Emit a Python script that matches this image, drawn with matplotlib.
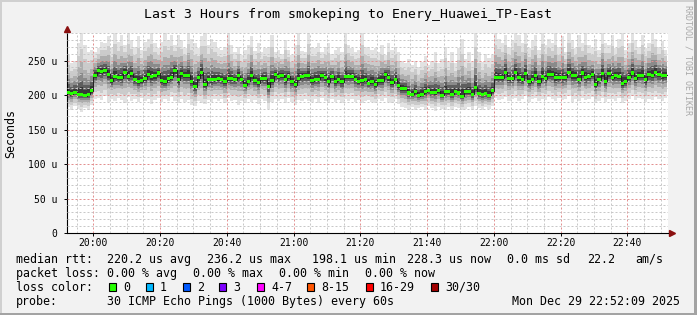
import numpy as np
import matplotlib
matplotlib.use("Agg")
import matplotlib.pyplot as plt
import matplotlib.dates as mdates
from matplotlib.patches import Rectangle
from matplotlib.ticker import MultipleLocator, FuncFormatter

plt.rcParams["font.family"] = ["DejaVu Sans Mono", "DejaVu Sans"]

# one sample per minute (30 pings each), values in microseconds
median_us = [
    204, 202, 204, 201, 201, 199, 201, 206, 229, 235,
    234, 236, 230, 221, 227, 225, 225, 233, 227, 231,
    222, 220, 221, 224, 230, 227, 228, 232, 221, 219,
    224, 226, 236, 222, 231, 229, 229, 220, 212, 225,
    233, 215, 222, 222, 222,
    224, 222, 220, 224, 224, 222, 228, 222, 214, 220,
    228, 221, 218, 224, 224, 212, 221, 230, 227, 229,
    222, 227, 220, 215, 224, 227, 228, 228, 221, 223,
    223, 228, 225, 219, 227, 219, 223, 219, 227, 227,
    227, 223, 220, 221, 222,
    217, 220, 215, 221, 221, 230, 225, 218, 223, 214,
    209, 209, 203, 201, 205, 199, 201, 205, 207, 204,
    204, 206, 200, 205, 205, 201, 205, 203, 198, 205,
    205, 201, 211, 202, 201, 202, 200, 206, 225, 226,
    225, 233, 224, 224, 233,
    225, 222, 231, 219, 223, 228, 219, 227, 224, 230,
    230, 225, 226, 225, 226, 233, 228, 228, 222, 232,
    225, 227, 230, 215, 222, 231, 220, 231, 225, 229,
    227, 217, 220, 226, 232, 224, 229, 229, 222, 230,
    229, 233, 230, 228, 229,
]

# slowest ping of each sample (top of the smoke)
smoke_hi_us = [
    258, 246, 250, 276, 290, 272, 262, 266,
    263, 268, 277, 275, 285, 268, 290, 277, 287, 273,
    290, 280, 270, 285, 266, 277, 282, 290, 275, 268,
    277, 290, 280, 287, 273, 287, 280, 268, 290, 282,
    275, 268, 285, 290, 273, 282, 277,
    268, 266, 270, 290, 272, 262, 270, 258, 266, 272,
    285, 264, 276, 262, 268, 270, 287, 262, 266, 260,
    280, 266, 258, 272, 290, 264, 262, 290, 270, 268,
    276, 262, 270, 275, 260, 266, 270, 262, 290, 272,
    268, 262, 266, 290, 270,
    270, 266, 268, 262, 272, 258, 276, 266, 270, 262,
    250, 246, 252, 244, 250, 240, 248, 256, 244, 250,
    262, 246, 252, 270, 248, 262, 246, 268, 282, 252,
    262, 248, 290, 262, 248, 260, 254, 258, 290, 282,
    276, 287, 270, 280, 290,
    287, 276, 290, 268, 280, 287, 266, 290, 272, 282,
    276, 290, 270, 285, 262, 290, 280, 268, 287, 276,
    290, 272, 268, 282, 266, 290, 276, 272, 287, 268,
    282, 290, 266, 276, 290, 280, 270, 287, 268, 276,
    290, 282, 270, 278, 266,
]

# fastest ping of each sample (bottom of the smoke)
smoke_lo_us = [
    182, 179, 184, 180, 176, 181, 178, 186, 195, 196,
    193, 198, 190, 194, 191, 196, 193, 189, 197, 192,
    195, 190, 196, 192, 194, 187, 193, 196, 190, 194,
    192, 197, 191, 188, 195, 190, 193, 186, 184, 192,
    189, 187, 193, 190, 195,
    192, 194, 188, 196, 191, 193, 186, 192, 189, 195,
    190, 193, 187, 194, 191, 180, 190, 195, 192, 194,
    189, 196, 190, 186, 193, 192, 195, 191, 190, 194,
    189, 196, 192, 188, 195, 190, 193, 189, 194, 192,
    195, 190, 193, 188, 192,
    193, 190, 188, 194, 192, 196, 190, 189, 194, 187,
    183, 181, 179, 182, 178, 181, 183, 179, 184, 181,
    177, 183, 180, 178, 182, 179, 183, 181, 178, 180,
    182, 179, 184, 181, 178, 182, 180, 184, 196, 193,
    195, 197, 192, 194, 196,
    192, 195, 198, 190, 194, 196, 191, 195, 193, 197,
    194, 192, 196, 193, 195, 198, 190, 194, 192, 196,
    193, 195, 197, 188, 192, 196, 190, 194, 195, 192,
    196, 189, 192, 195, 198, 193, 196, 194, 190, 195,
    193, 197, 194, 192, 196,
]

first_sample = np.datetime64("2025-12-29T19:52:00")
view_start = np.datetime64("2025-12-29T19:52:09")
view_end = np.datetime64("2025-12-29T22:52:09")

title = "Last 3 Hours from smokeping to Enery_Huawei_TP-East"
rtt_items = ["median rtt:", "220.2 us avg", "236.2 us max", "198.1 us min",
             "228.3 us now", "0.0 ms sd", "22.2", "am/s"]
loss_items = ["packet loss:", "0.00 % avg", "0.00 % max", "0.00 % min", "0.00 % now"]
loss_labels = ["0", "1", "2", "3", "4-7", "8-15", "16-29", "30/30"]
loss_colors = ["#26ff00", "#00b8ff", "#0059ff", "#7e00ff",
               "#ff00ff", "#ff5500", "#ff0000", "#a10000"]
probe_text = "30 ICMP Echo Pings (1000 Bytes) every 60s"
stamp = "Mon Dec 29 22:52:09 2025"

W, H = 697, 315


def fx(x):
    return x / W


def fy(y):
    return 1 - y / H


fig = plt.figure(figsize=(W / 100, H / 100), dpi=100, facecolor="#f2f2f2")

# 3d-ish frame of the rrdtool canvas
fig.add_artist(Rectangle((0, 0), 1, 2 / H, transform=fig.transFigure, color="#a3a3a3", lw=0))
fig.add_artist(Rectangle((1 - 3 / W, 0), 3 / W, 1, transform=fig.transFigure, color="#a3a3a3", lw=0))
fig.add_artist(Rectangle((0, 1 - 2 / H), 1 - 3 / W, 2 / H, transform=fig.transFigure, color="#d0d0d0", lw=0))
fig.add_artist(Rectangle((0, 2 / H), 2 / W, 1 - 4 / H, transform=fig.transFigure, color="#d0d0d0", lw=0))

ax = fig.add_axes([fx(67), fy(233), 601 / W, 200 / H])
ax.set_facecolor("white")

n = len(median_us)
edges = first_sample + np.arange(n + 1) * np.timedelta64(1, "m")
med = np.append(median_us, median_us[-1]).astype(float)
hi = np.append(smoke_hi_us, smoke_hi_us[-1]).astype(float)
lo = np.append(smoke_lo_us, smoke_lo_us[-1]).astype(float)

# smoke: lighter shades further from the median
fracs = [1.0, 0.74, 0.52, 0.35, 0.22, 0.12]
grays = ["#e2e2e2", "#cbcbcb", "#adadad", "#8a8a8a", "#5e5e5e", "#383838"]
for f, g in zip(fracs, grays):
    ax.fill_between(edges, med - f * (med - lo), med + f * (hi - med),
                    step="post", color=g, lw=0, zorder=1)

ax.step(edges, med, where="post", color="#202020", lw=0.7, zorder=3)
ax.fill_between(edges, med - 2.2, med + 2.2, step="post",
                color=loss_colors[0], lw=0, zorder=4)

ax.set_xlim(view_start, view_end)
ax.set_ylim(0, 290)

ax.xaxis.set_major_locator(mdates.MinuteLocator(byminute=[0, 20, 40]))
ax.xaxis.set_minor_locator(mdates.MinuteLocator(byminute=range(0, 60, 5)))
ax.xaxis.set_major_formatter(mdates.DateFormatter("%H:%M"))
ax.yaxis.set_major_locator(MultipleLocator(50))
ax.yaxis.set_minor_locator(MultipleLocator(10))
ax.yaxis.set_major_formatter(FuncFormatter(lambda v, p: "0" if v == 0 else "%d u" % v))

ax.set_axisbelow(False)
ax.grid(which="minor", color="#c8c8c8", lw=0.72, ls=(0, (2, 2)))
ax.grid(which="major", color="#e39090", lw=0.72, ls=(0, (2, 2)))

ax.tick_params(which="major", length=2, width=0.7, color="black", labelsize=7)
ax.tick_params(axis="y", pad=5)
ax.tick_params(axis="x", pad=1.5)
ax.tick_params(which="minor", length=0)

for s in ["top", "right"]:
    ax.spines[s].set_visible(False)
for s in ["left", "bottom"]:
    ax.spines[s].set_color("black")
    ax.spines[s].set_linewidth(0.8)

# axis arrows
ax.plot([0, 0], [1, 1.02], color="black", lw=0.8, transform=ax.transAxes, clip_on=False)
ax.plot(0, 1.02, marker="^", ms=4, color="#8b1010", transform=ax.transAxes, clip_on=False)
ax.plot(1.006, 0, marker=">", ms=4, color="#8b1010", transform=ax.transAxes, clip_on=False)

fig.text(fx(348.5), fy(18), title, ha="center", va="baseline", fontsize=9.5)
fig.text(fx(11), fy(133), "Seconds", rotation=90, ha="center", va="center", fontsize=8.4)
fig.text(fx(688), fy(5), "RRDTOOL / TOBI OETIKER", rotation=270, ha="center", va="top",
         fontsize=6, color="#a8a8a8")

# legend block
rtt_x = [16, 107, 207, 312, 407, 507, 587, 635]
for s, x in zip(rtt_items, rtt_x):
    fig.text(fx(x), fy(263), s, va="baseline", fontsize=8.4)

loss_x = [16, 107, 193, 279, 365]
for s, x in zip(loss_items, loss_x):
    fig.text(fx(x), fy(277), s, va="baseline", fontsize=8.4)

fig.text(fx(16), fy(291), "loss color:", va="baseline", fontsize=8.4)
box_x = [109, 146, 183, 219, 257, 307, 366, 431]
for lab, col, x in zip(loss_labels, loss_colors, box_x):
    fig.add_artist(Rectangle((fx(x), fy(291)), 7 / W, 8 / H, transform=fig.transFigure,
                             facecolor=col, edgecolor="black", lw=0.8))
    fig.text(fx(x + 14), fy(291), lab, va="baseline", fontsize=8.4)

fig.text(fx(16), fy(305), "probe:", va="baseline", fontsize=8.4)
fig.text(fx(107), fy(305), probe_text, va="baseline", fontsize=8.4)
fig.text(fx(680), fy(305), stamp, ha="right", va="baseline", fontsize=8.4)

fig.savefig("out.png", dpi=100, facecolor=fig.get_facecolor())
